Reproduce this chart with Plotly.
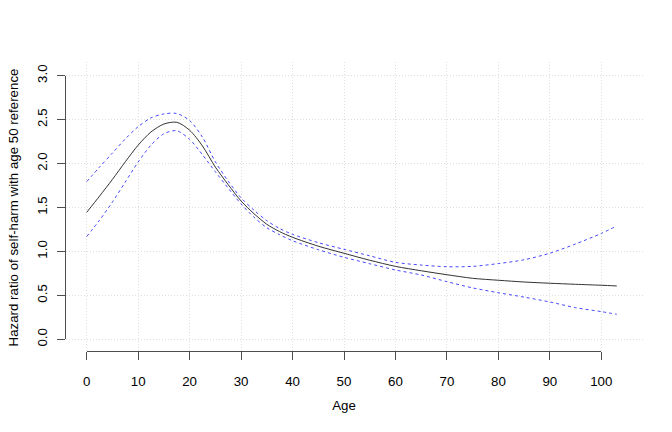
import plotly.graph_objects as go

# ---- data ----
ages = [0, 2.5, 5, 7.5, 10, 12.5, 15, 17.5, 20, 22.5, 25, 27.5, 30, 32.5, 35, 37.5,
        40, 45, 50, 55, 60, 65, 70, 75, 80, 85, 90, 95, 100, 103]
hr = [1.445, 1.63, 1.82, 2.02, 2.21, 2.36, 2.45, 2.47, 2.38, 2.20, 1.96, 1.76, 1.574,
      1.43, 1.309, 1.225, 1.161, 1.06, 0.979, 0.90, 0.83, 0.78, 0.735, 0.694, 0.672,
      0.652, 0.638, 0.626, 0.615, 0.607]
upper = [1.794, 1.96, 2.12, 2.28, 2.42, 2.52, 2.565, 2.57, 2.49, 2.30, 2.02, 1.80,
         1.61, 1.47, 1.35, 1.26, 1.195, 1.10, 1.024, 0.95, 0.876, 0.845, 0.826, 0.83,
         0.862, 0.905, 0.98, 1.085, 1.205, 1.29]
lower = [1.17, 1.356, 1.562, 1.79, 2.018, 2.21, 2.34, 2.374, 2.275, 2.10, 1.907, 1.72,
         1.54, 1.39, 1.27, 1.19, 1.122, 1.02, 0.933, 0.86, 0.789, 0.732, 0.656, 0.585,
         0.53, 0.48, 0.425, 0.36, 0.315, 0.285]

x_ticks = [0, 10, 20, 30, 40, 50, 60, 70, 80, 90, 100]
y_ticks = [0.0, 0.5, 1.0, 1.5, 2.0, 2.5, 3.0]
y_tick_labels = ["0.0", "0.5", "1.0", "1.5", "2.0", "2.5", "3.0"]
x_title = "Age"
y_title = "Hazard ratio of self-harm with age 50 reference"

# ---- layout geometry (pixels) ----
W, H = 672, 432
PL, PR, PT, PB = 57, 645, 62, 358          # plot area (grid region)
X0PX, X100PX = 86.7, 601.3                 # pixel of age 0 and age 100
Y0PX, Y3PX = 339.3, 75.7                   # pixel of HR 0 and HR 3
XAXIS_PX, YAXIS_PX = 350.5, 65.3           # axis line positions

sx = (X100PX - X0PX) / 100.0
sy = (Y0PX - Y3PX) / 3.0
xr = [(PL - X0PX) / sx, (PR - X0PX) / sx]
yr = [(Y0PX - PB) / sy, (Y0PX - PT) / sy]
pw, ph = PR - PL, PB - PT

FS = 13.3
font = dict(family="Liberation Sans, Arial, sans-serif", size=FS, color="#000000")
axcol = "#4d4d4d"
gridcol = "#dedede"

fig = go.Figure()
band_style = dict(color="rgba(40,40,255,0.85)", width=1, dash="dot", shape="spline", smoothing=0.8)
fig.add_trace(go.Scatter(x=ages, y=upper, mode="lines", line=band_style,
                         showlegend=False, name="upper"))
fig.add_trace(go.Scatter(x=ages, y=lower, mode="lines", line=band_style,
                         showlegend=False, name="lower"))
fig.add_trace(go.Scatter(x=ages, y=hr, mode="lines",
                         line=dict(color="#333333", width=1, shape="spline", smoothing=0.8),
                         showlegend=False, name="HR"))
# placeholder trace so the display axes render
fig.add_trace(go.Scatter(x=[], y=[], xaxis="x2", yaxis="y2", showlegend=False,
                         hoverinfo="skip"))

fig.update_layout(
    width=W, height=H,
    margin=dict(l=PL, r=W - PR, t=PT, b=H - PB, pad=0),
    paper_bgcolor="white", plot_bgcolor="rgba(0,0,0,0)",
    font=font,
    xaxis=dict(range=xr, tickvals=x_ticks, showticklabels=False, ticks="",
               showgrid=True, gridcolor=gridcol, griddash="1px,2px", gridwidth=1,
               zeroline=False, showline=False, domain=[0, 1]),
    yaxis=dict(range=yr, tickvals=y_ticks, showticklabels=False, ticks="",
               showgrid=True, gridcolor=gridcol, griddash="1px,2px", gridwidth=1,
               zeroline=False, showline=False, domain=[0, 1]),
    xaxis2=dict(range=[0, 100], domain=[(X0PX - PL) / pw, (X100PX - PL) / pw],
                anchor="free", position=(PB - XAXIS_PX) / ph,
                tickvals=x_ticks, ticktext=[str(v) for v in x_ticks],
                ticks="outside", ticklen=8, tickwidth=1, tickcolor=axcol,
                showline=True, linecolor=axcol, linewidth=1,
                showgrid=False, zeroline=False, ticklabelstandoff=11,
                tickfont=dict(size=FS, color="#000"),
                title=dict(text=x_title, font=dict(size=FS, color="#000"), standoff=12)),
    yaxis2=dict(range=[0, 3], domain=[(PB - Y0PX) / ph, (PB - Y3PX) / ph],
                anchor="free", position=(YAXIS_PX - PL) / pw,
                tickvals=y_ticks, ticktext=y_tick_labels, tickangle=-90,
                ticks="outside", ticklen=8, tickwidth=1, tickcolor=axcol,
                showline=True, linecolor=axcol, linewidth=1,
                showgrid=False, zeroline=False, ticklabelstandoff=5,
                tickfont=dict(size=FS, color="#000"),
                title=dict(text=y_title, font=dict(size=FS, color="#000"), standoff=12)),
)

fig.write_html("out.html", config={"displayModeBar": False},
               post_script="document.body.style.margin='0';")
